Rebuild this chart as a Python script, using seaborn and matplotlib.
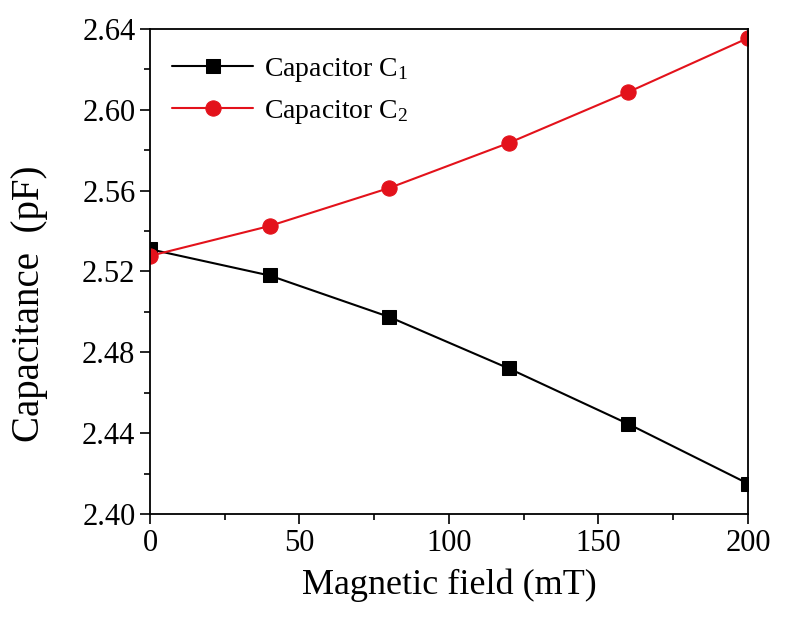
import pandas as pd
import seaborn as sns
import matplotlib.pyplot as plt
from matplotlib.ticker import MultipleLocator

field = [0, 40, 80, 120, 160, 200]
cap_c1 = [2.531, 2.518, 2.4975, 2.472, 2.4445, 2.415]
cap_c2 = [2.5277, 2.5425, 2.5613, 2.5836, 2.6088, 2.6355]

sns.set_style("ticks")
plt.rcParams["font.family"] = ["Liberation Serif", "DejaVu Serif"]
plt.rcParams["mathtext.fontset"] = "custom"
plt.rcParams["mathtext.rm"] = "Liberation Serif"
plt.rcParams["mathtext.it"] = "Liberation Serif:italic"
for k in ["text.color", "axes.labelcolor", "xtick.color", "ytick.color", "axes.edgecolor"]:
    plt.rcParams[k] = "black"

df1 = pd.DataFrame({"field": field, "cap": cap_c1})
df2 = pd.DataFrame({"field": field, "cap": cap_c2})

fig = plt.figure(figsize=(7.87, 6.4), dpi=100)
ax = fig.add_axes([0.1906, 0.197, 0.7598, 0.7577])

sns.lineplot(data=df1, x="field", y="cap", ax=ax, color="black", marker="s",
             markersize=10, markeredgecolor="black", linewidth=1.5,
             label="Capacitor C$_1$")
sns.lineplot(data=df2, x="field", y="cap", ax=ax, color="#e3121b", marker="o",
             markersize=11, markeredgecolor="#e3121b", linewidth=1.5,
             label="Capacitor C$_2$")
# markers at the ends are cut by the frame in the original
for ln in ax.lines:
    ln.set_clip_on(True)
    ln.set_clip_path(ax.patch)

ax.set_xlim(0, 200)
ax.set_ylim(2.40, 2.64)
ax.xaxis.set_major_locator(MultipleLocator(50))
ax.xaxis.set_minor_locator(MultipleLocator(25))
ax.yaxis.set_major_locator(MultipleLocator(0.04))
ax.yaxis.set_minor_locator(MultipleLocator(0.02))
ax.yaxis.set_major_formatter(plt.FormatStrFormatter("%.2f"))
ax.tick_params(which="major", direction="out", length=7, width=1.2, labelsize=22)
ax.tick_params(which="minor", direction="out", length=4, width=1.2)
for s in ax.spines.values():
    s.set_linewidth(1.3)
    s.set_zorder(5)

ax.set_xlabel("Magnetic field (mT)", fontsize=26, labelpad=8)
ax.set_ylabel("Capacitance  (pF)", fontsize=28)
ax.yaxis.set_label_coords(-0.17, 0.433)

ax.legend(loc="upper left", bbox_to_anchor=(0.0, 0.99), frameon=False,
          fontsize=20, handlelength=2.9, handletextpad=0.4,
          borderaxespad=0.4, labelspacing=0.5)

fig.savefig("out.png", dpi=100)
